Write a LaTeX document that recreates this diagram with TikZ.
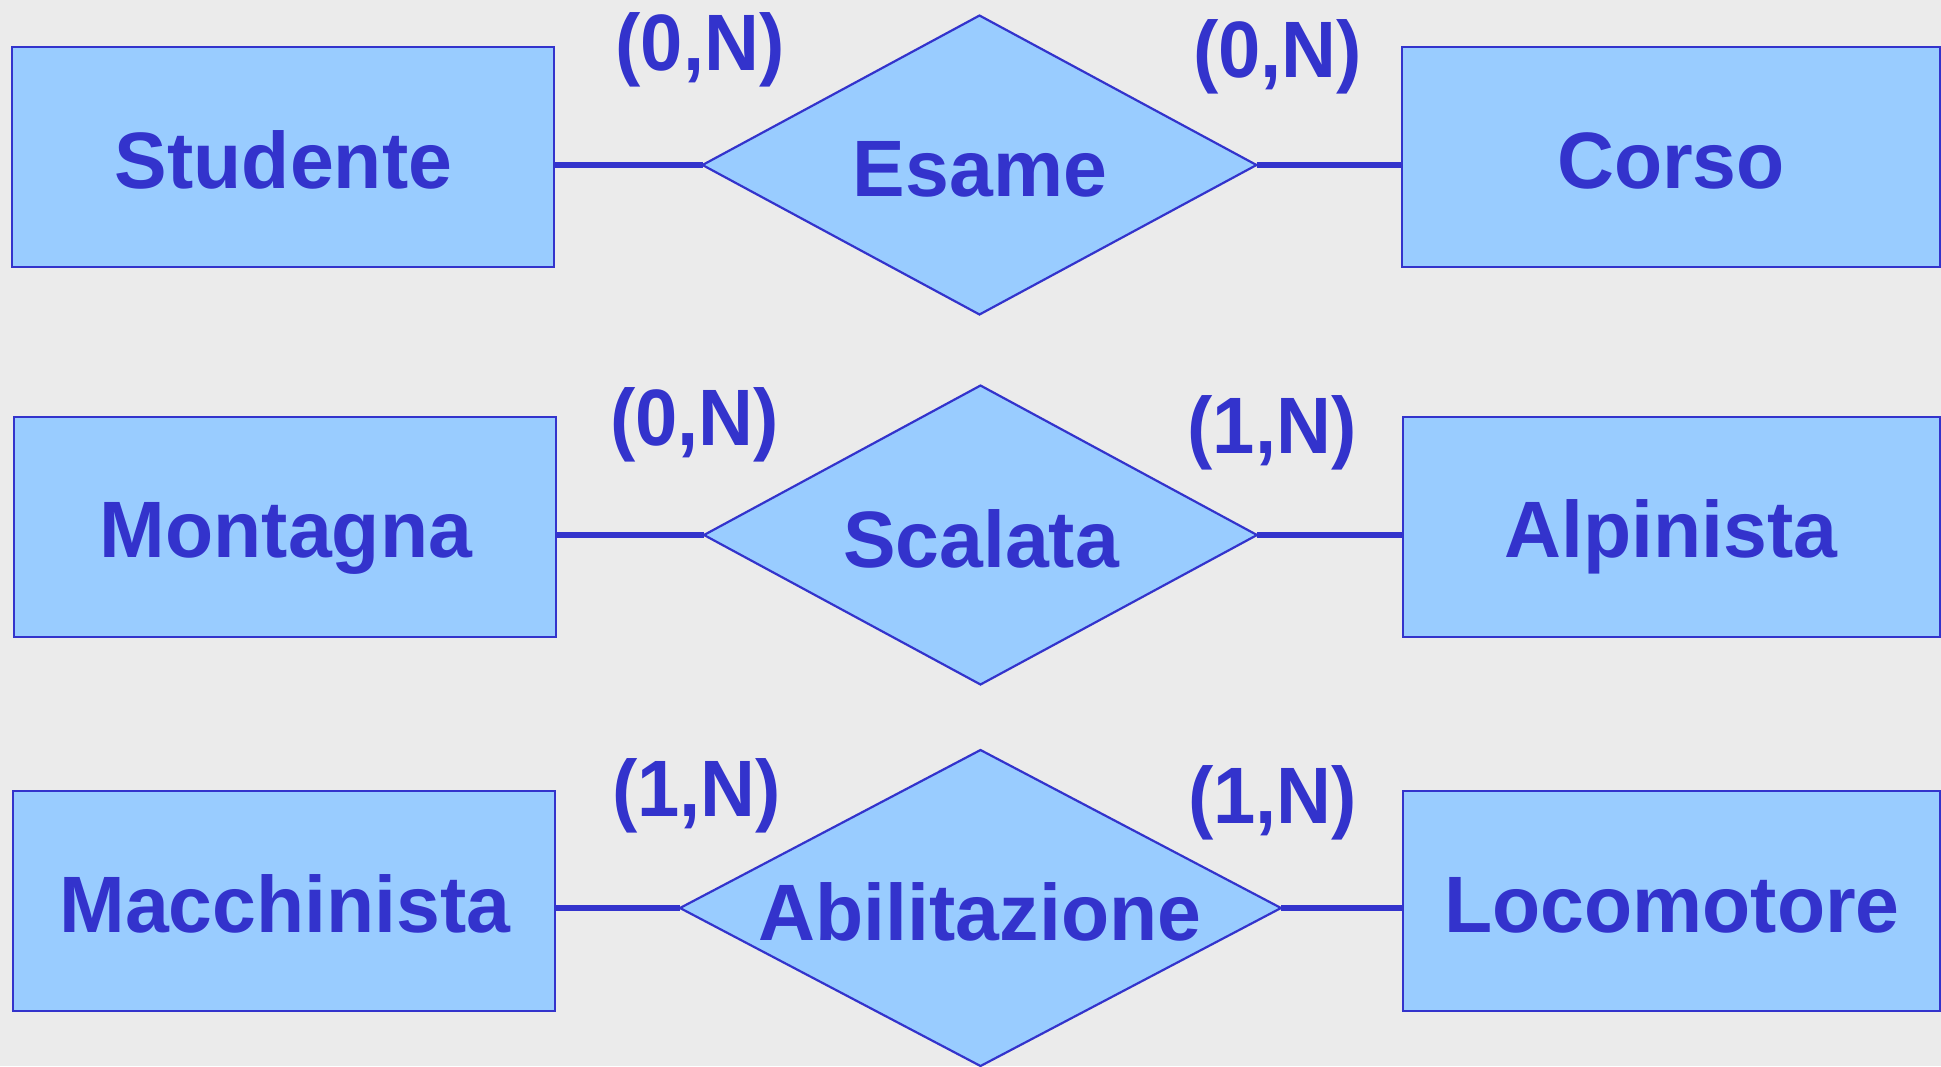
\documentclass[tikz,border=0pt]{standalone}
\usepackage{fontspec}
\setmainfont{Liberation Sans}[FakeStretch=0.95]
\newfontfamily\ernamefont{Liberation Sans}[FakeStretch=0.985]
\usetikzlibrary{shapes.geometric}
\definecolor{erfill}{HTML}{99CCFF}
\definecolor{erline}{HTML}{3333CC}
\definecolor{erbg}{HTML}{EBEBEB}
\tikzset{
  entity/.style={draw=erline, fill=erfill, line width=2.2pt, rectangle, inner sep=0pt, outer sep=0pt, minimum height=220pt},
  relation/.style={draw=erline, fill=erfill, line width=2.2pt, diamond, inner sep=0pt, outer sep=0pt},
  label/.style={text=erline, font=\ernamefont\bfseries\fontsize{80}{96}\selectfont, anchor=base, inner sep=0pt},
  card/.style={text=erline, font=\bfseries\fontsize{80}{96}\selectfont, anchor=base, inner sep=0pt},
  conn/.style={draw=erline, line width=5.5pt}
}
\begin{document}
\begin{tikzpicture}[x=1pt,y=-1pt]
\fill[erbg] (0,0) rectangle (1941,1066);
\useasboundingbox (0,0) rectangle (1941,1066);
% row 1
\node[entity, minimum width=542pt] (studente) at (283,157) {};
\node[entity, minimum width=538pt] (corso) at (1671,157) {};
\node[relation, minimum width=554pt, minimum height=299pt] (esame) at (979.5,165) {};
\node[label] (tstudente) at (283.5,188) {Studente};
\node[label] (tcorso) at (1671,188) {Corso};
\node[label] (tesame) at (980,196) {Esame};
\node[card] (c1l) at (700,70) {(0,N)};
\node[card] (c1r) at (1277.5,77) {(0,N)};
\draw[conn] (studente.east |- esame.west) -- (esame.west);
\draw[conn] (esame.east) -- (corso.west |- esame.east);
% row 2
\node[entity, minimum width=542pt] (montagna) at (285,527) {};
\node[entity, minimum width=537pt] (alpinista) at (1671.5,527) {};
\node[relation, minimum width=553pt, minimum height=299pt] (scalata) at (980.5,535) {};
\node[label] (tmontagna) at (286,557) {Montagna};
\node[label] (talpinista) at (1671,557) {Alpinista};
\node[label] (tscalata) at (981,567) {Scalata};
\node[card] (c2l) at (694.5,445) {(0,N)};
\node[card] (c2r) at (1272,453) {(1,N)};
\draw[conn] (montagna.east |- scalata.west) -- (scalata.west);
\draw[conn] (scalata.east) -- (alpinista.west |- scalata.east);
% row 3
\node[entity, minimum width=542pt] (macchinista) at (284,901) {};
\node[entity, minimum width=537pt] (locomotore) at (1671.5,901) {};
\node[relation, minimum width=601pt, minimum height=316pt] (abilitazione) at (980.5,908) {};
\node[label] (tmacchinista) at (285,932) {Macchinista};
\node[label] (tlocomotore) at (1672,932) {Locomotore};
\node[label] (tabilitazione) at (980,940) {Abilitazione};
\node[card] (c3l) at (696.5,816) {(1,N)};
\node[card] (c3r) at (1272.5,823) {(1,N)};
\draw[conn] (macchinista.east |- abilitazione.west) -- (abilitazione.west);
\draw[conn] (abilitazione.east) -- (locomotore.west |- abilitazione.east);
\end{tikzpicture}
\end{document}
